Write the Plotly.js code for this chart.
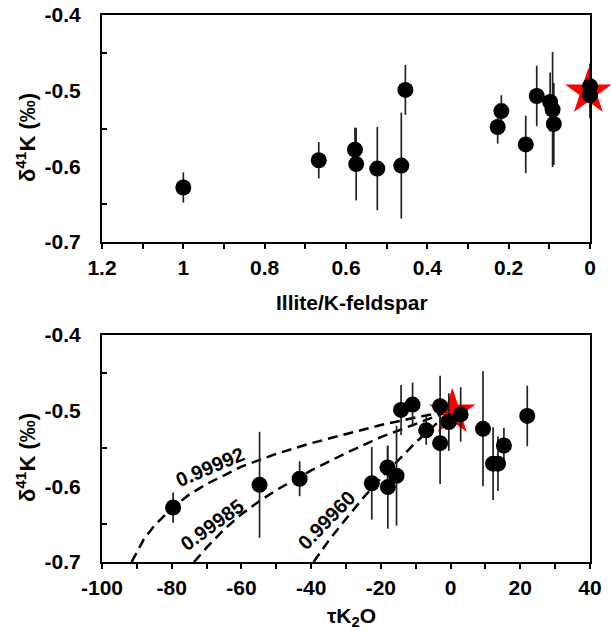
<!DOCTYPE html>
<html>
<head>
<meta charset="utf-8">
<script src="https://cdn.plot.ly/plotly-3.0.1.min.js"></script>
<style>html,body{margin:0;padding:0;background:#fff;}#chart{width:611px;height:631px;}</style>
</head>
<body>
<div id="chart"></div>
<script>
// ---- Top panel: Illite/K-feldspar vs d41K ----
const illiteRatio = [1.0, 0.667, 0.578, 0.575, 0.523, 0.464, 0.454, 0.227, 0.218, 0.158, 0.131, 0.098, 0.092, 0.089, 0, 0];
const illiteD41K  = [-0.628, -0.592, -0.578, -0.597, -0.603, -0.599, -0.499, -0.548, -0.527, -0.571, -0.507, -0.515, -0.525, -0.544, -0.494, -0.506];
const illiteErr   = [0.020, 0.024, 0.029, 0.048, 0.055, 0.070, 0.033, 0.022, 0.021, 0.038, 0.040, 0.039, 0.076, 0.054, 0.030, 0.030];
const starTopX = [0.004];
const starTopY = [-0.502];

// ---- Bottom panel: tauK2O vs d41K ----
const tauK2O   = [-79.6, -54.8, -43.3, -22.6, -18.1, -18.0, -15.5, -14.2, -10.9, -7.0, -3.0, -3.0, -0.5, 2.9, 9.3, 12.2, 13.6, 15.3, 22.0];
const tauD41K  = [-0.628, -0.598, -0.590, -0.596, -0.575, -0.601, -0.586, -0.499, -0.492, -0.526, -0.494, -0.543, -0.515, -0.505, -0.524, -0.570, -0.570, -0.546, -0.507];
const tauErr   = [0.020, 0.070, 0.023, 0.048, 0.028, 0.055, 0.066, 0.033, 0.029, 0.019, 0.040, 0.054, 0.038, 0.036, 0.076, 0.048, 0.036, 0.023, 0.040];
const starBotX = [0.5];
const starBotY = [-0.502];

// model curves
const curveA_x = [-91.5, -88, -85, -80, -75, -70, -60, -50, -40, -30, -20, -10, 0];
const curveA_y = [-0.700, -0.670, -0.652, -0.629, -0.611, -0.597, -0.574, -0.557, -0.543, -0.531, -0.519, -0.509, -0.500];
const curveB_x = [-73.6, -70, -65, -60, -55, -50, -40, -30, -20, -10, 0];
const curveB_y = [-0.700, -0.681, -0.657, -0.637, -0.620, -0.605, -0.579, -0.556, -0.535, -0.517, -0.500];
const curveC_x = [-39.3, -35, -30, -25, -20, -15, -10, -5, 0];
const curveC_y = [-0.700, -0.672, -0.643, -0.615, -0.589, -0.565, -0.542, -0.521, -0.500];
const curveLabels = ['0.99992', '0.99985', '0.99960'];
const curveLabelX = [-69.0, -68.5, -35.6];
const curveLabelY = [-0.575, -0.651, -0.644];
const curveLabelAngle = [-23, -36, -46];

// ticks
const yTickVals = [-0.4, -0.5, -0.6, -0.7];
const yTickText = ['-0.4', '-0.5', '-0.6', '-0.7'];
const yMinorVals = [-0.45, -0.55, -0.65];
const topXTickVals = [1.2, 1.0, 0.8, 0.6, 0.4, 0.2, 0];
const topXTickText = ['1.2', '1', '0.8', '0.6', '0.4', '0.2', '0'];
const topXMinorVals = [1.1, 0.9, 0.7, 0.5, 0.3, 0.1];
const botXTickVals = [-100, -80, -60, -40, -20, 0, 20, 40];
const botXTickText = ['-100', '-80', '-60', '-40', '-20', '0', '20', '40'];
const botXMinorVals = [-90, -70, -50, -30, -10, 10, 30];

const FONT = 'Liberation Sans, Arial, Helvetica, sans-serif';
const errStyle = (arr) => ({type: 'data', array: arr, visible: true, color: '#222', thickness: 1.7, width: 0});
const dashLine = {color: 'black', width: 2.5, dash: '10px,6px'};

const traces = [
  {x: starTopX, y: starTopY, xaxis: 'x', yaxis: 'y', mode: 'markers', type: 'scatter',
   marker: {symbol: 'star', size: 35, color: '#ff0000', line: {width: 0}}, cliponaxis: false, hoverinfo: 'skip'},
  {x: illiteRatio, y: illiteD41K, xaxis: 'x', yaxis: 'y', mode: 'markers', type: 'scatter',
   marker: {symbol: 'circle', size: 16, color: 'black', line: {width: 0}},
   error_y: errStyle(illiteErr), cliponaxis: false},
  {x: curveA_x, y: curveA_y, xaxis: 'x2', yaxis: 'y2', mode: 'lines', type: 'scatter', line: dashLine},
  {x: curveB_x, y: curveB_y, xaxis: 'x2', yaxis: 'y2', mode: 'lines', type: 'scatter', line: dashLine},
  {x: curveC_x, y: curveC_y, xaxis: 'x2', yaxis: 'y2', mode: 'lines', type: 'scatter', line: dashLine},
  {x: starBotX, y: starBotY, xaxis: 'x2', yaxis: 'y2', mode: 'markers', type: 'scatter',
   marker: {symbol: 'star', size: 35, color: '#ff0000', line: {width: 0}}, cliponaxis: false},
  {x: tauK2O, y: tauD41K, xaxis: 'x2', yaxis: 'y2', mode: 'markers', type: 'scatter',
   marker: {symbol: 'circle', size: 16, color: 'black', line: {width: 0}},
   error_y: errStyle(tauErr), cliponaxis: false}
];

const tickFont = {family: FONT, size: 21, color: 'black', weight: 'bold'};
function xAxis(range, tv, tt, mv, anchor) {
  return {domain: [0, 1], anchor: anchor, range: range, autorange: false,
    tickmode: 'array', tickvals: tv, ticktext: tt, ticks: 'outside', ticklen: 5, tickwidth: 2, tickcolor: 'black',
    minor: {tickmode: 'array', tickvals: mv, ticks: 'outside', ticklen: 5, tickwidth: 2, tickcolor: 'black', showgrid: false},
    showline: true, linewidth: 2, linecolor: 'black', mirror: true, showgrid: false, zeroline: false,
    tickfont: tickFont, ticklabelstandoff: 1};
}
function yAxis(domain, anchor) {
  return {domain: domain, anchor: anchor, range: [-0.7, -0.4], autorange: false,
    tickmode: 'array', tickvals: yTickVals, ticktext: yTickText, ticks: '',
    minor: {tickmode: 'array', tickvals: yMinorVals, ticks: 'inside', ticklen: 5, tickwidth: 2, tickcolor: 'black', showgrid: false},
    showline: true, linewidth: 2, linecolor: 'black', mirror: true, showgrid: false, zeroline: false,
    tickfont: tickFont, ticklabelstandoff: 15};
}

const titleFont = {family: FONT, size: 21, color: 'black', weight: 'bold'};
const yTitleFont = {family: FONT, size: 22, color: 'black', weight: 'bold'};
const curveFont = {family: FONT, size: 20, color: 'black', weight: 'bold'};
const annotations = [
  {text: 'Illite/K-feldspar', xref: 'paper', yref: 'paper', x: 0.512, y: 0.4753, xanchor: 'center', yanchor: 'middle', showarrow: false, font: titleFont},
  {text: 'τK<sub>2</sub>O', xref: 'paper', yref: 'paper', x: 0.512, y: -0.1005, xanchor: 'center', yanchor: 'middle', showarrow: false, font: titleFont},
  {text: 'δ<sup>41</sup>K (‰)', xref: 'paper', yref: 'paper', x: -0.1557, y: 0.775, xanchor: 'center', yanchor: 'middle', textangle: -90, showarrow: false, font: yTitleFont},
  {text: 'δ<sup>41</sup>K (‰)', xref: 'paper', yref: 'paper', x: -0.1557, y: 0.19, xanchor: 'center', yanchor: 'middle', textangle: -90, showarrow: false, font: yTitleFont}
];
for (let i = 0; i < curveLabels.length; i++) {
  annotations.push({text: curveLabels[i], xref: 'x2', yref: 'y2', x: curveLabelX[i], y: curveLabelY[i],
    xanchor: 'center', yanchor: 'middle', textangle: curveLabelAngle[i], showarrow: false, font: curveFont});
}

const layout = {
  width: 611, height: 631,
  margin: {l: 102, r: 21, t: 15, b: 69, pad: 0},
  paper_bgcolor: 'white', plot_bgcolor: 'white',
  showlegend: false,
  font: {family: FONT, size: 20, color: 'black'},
  xaxis: xAxis([1.2, 0], topXTickVals, topXTickText, topXMinorVals, 'y'),
  yaxis: yAxis([0.585, 1], 'x'),
  xaxis2: xAxis([-100, 40], botXTickVals, botXTickText, botXMinorVals, 'y2'),
  yaxis2: yAxis([0, 0.415], 'x2'),
  annotations: annotations
};

Plotly.newPlot('chart', traces, layout, {displayModeBar: false, staticPlot: true});
</script>
</body>
</html>
